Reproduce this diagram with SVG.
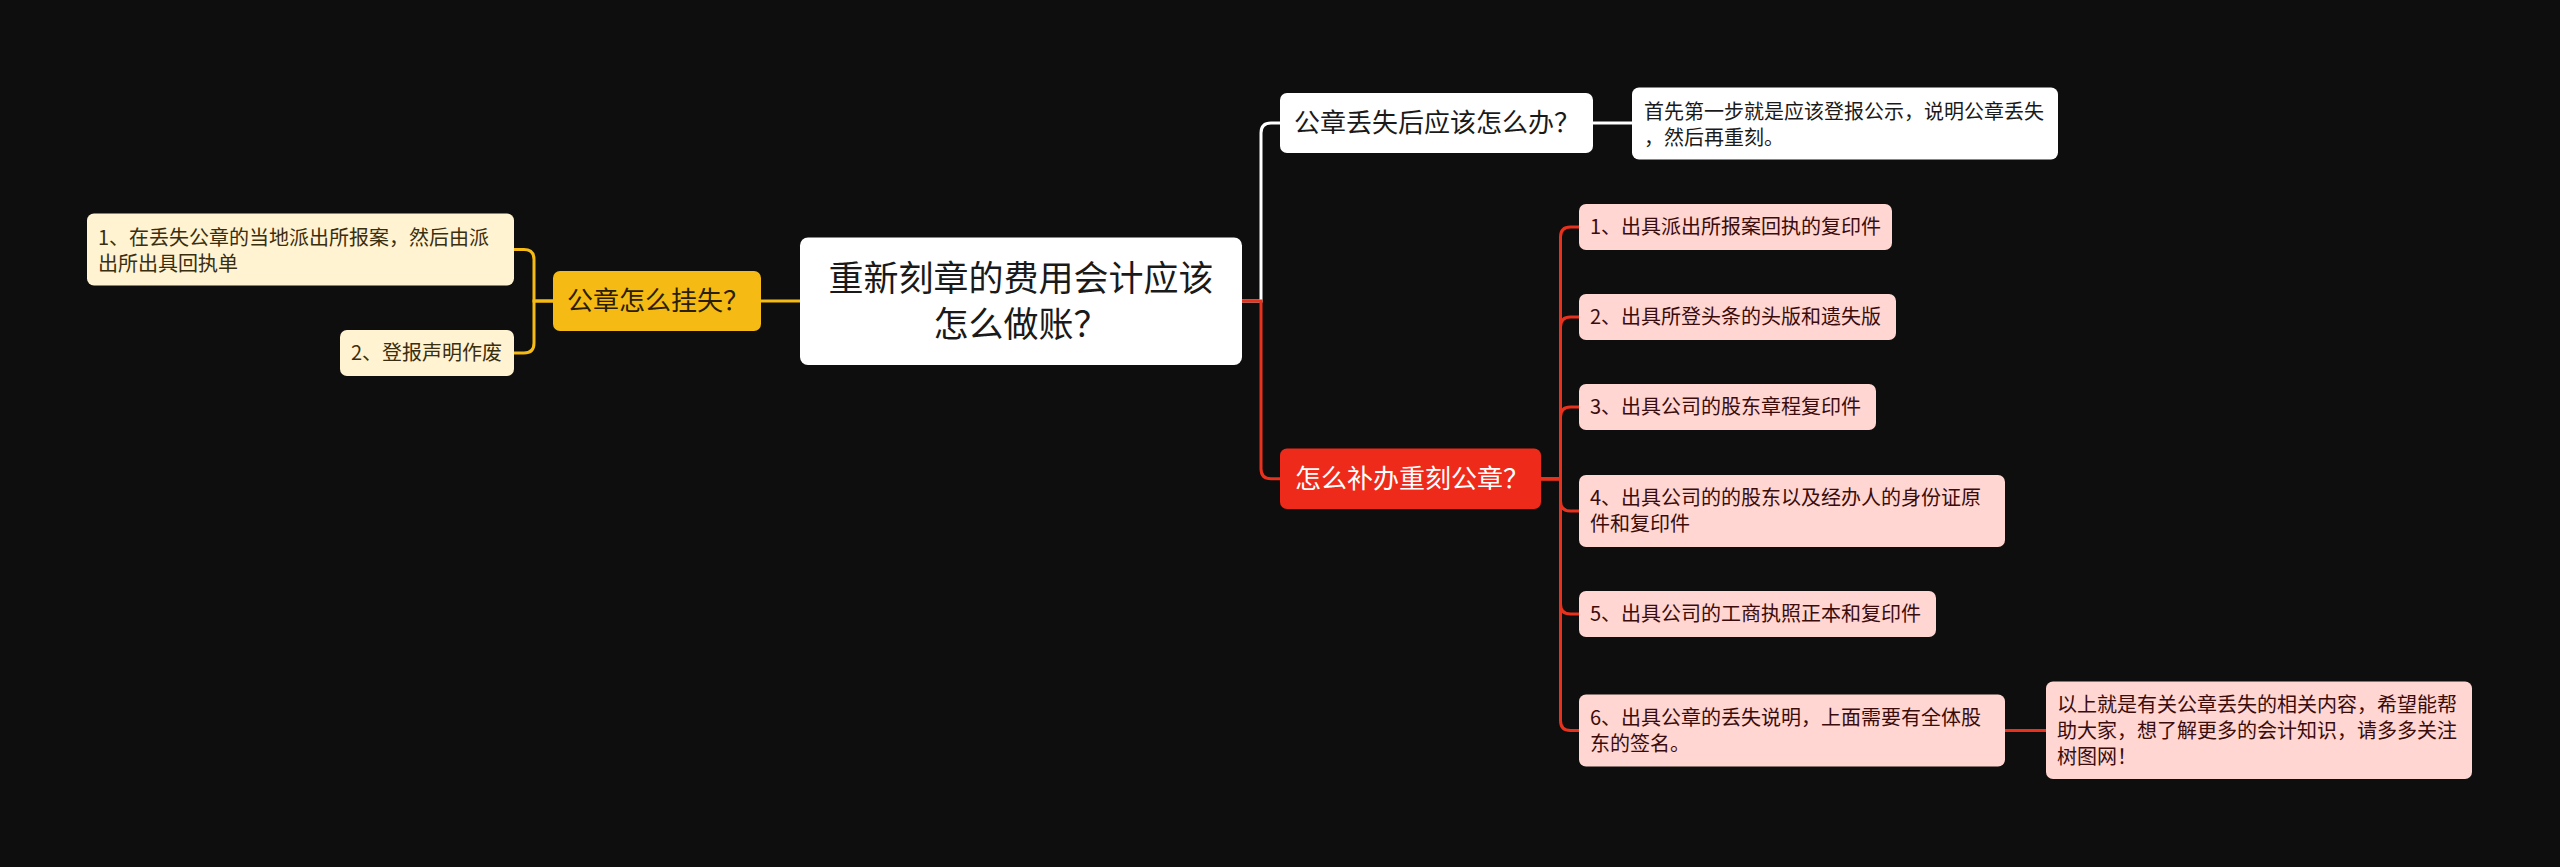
<svg xmlns="http://www.w3.org/2000/svg" width="2560" height="867" viewBox="0 0 2560 867">
<style>
text{font-family:"Noto Sans CJK SC","Noto Sans",sans-serif;}
.root{fill:#ffffff;}
.rootT{font-size:35px;fill:#1a1a1a;text-anchor:middle;}
.l1T{font-size:26px;}
.leafT{font-size:20px;}
.yel{fill:#F5BA14;}
.yelT{fill:#2a2000;}
.cream{fill:#FFF3D1;}
.creamT{fill:#3a2e10;}
.red{fill:#EE2A1A;}
.redT{fill:#ffffff;}
.pink{fill:#FFD6D2;}
.pinkT{fill:#3a0c0c;}
.wh{fill:#ffffff;}
.whT{fill:#1a1a1a;}
.c{fill:none;stroke-width:3;stroke-linecap:round;}
.cw{stroke:#ffffff;}
.cr{stroke:#E8321E;}
.cy{stroke:#F5BA14;}
</style>
<rect x="0" y="0" width="2560" height="867" fill="#0E0E0E"/>
<g id="connectors">
  <path class="c cy" d="M800 301 H761"/>
  <path class="c cy" d="M553 301 H534 V259.5 Q534 249.5 524 249.5 H514"/>
  <path class="c cy" d="M553 301 H534 V343 Q534 353 524 353 H514"/>
  <path class="c cw" d="M1242 301 H1261 V133 Q1261 123 1271 123 H1280"/>
  <path class="c cw" d="M1593 123 H1632"/>
  <path class="c cr" d="M1242 301 H1261 V468.7 Q1261 478.7 1271 478.7 H1280"/>
  <path class="c cr" d="M1541 478.7 H1560.5 V237 Q1560.5 227 1570.5 227 H1579"/>
  <path class="c cr" d="M1541 478.7 H1560.5 V327 Q1560.5 317 1570.5 317 H1579"/>
  <path class="c cr" d="M1541 478.7 H1560.5 V417 Q1560.5 407 1570.5 407 H1579"/>
  <path class="c cr" d="M1541 478.7 H1560.5 V501 Q1560.5 511 1570.5 511 H1579"/>
  <path class="c cr" d="M1541 478.7 H1560.5 V604 Q1560.5 614 1570.5 614 H1579"/>
  <path class="c cr" d="M1541 478.7 H1560.5 V720.5 Q1560.5 730.5 1570.5 730.5 H1579"/>
  <path class="c cr" d="M2005 730.5 H2046"/>
</g>
<g id="root">
  <rect class="root" x="800" y="237.5" width="442" height="127.5" rx="8"/>
  <text class="rootT" x="1021" y="291">重新刻章的费用会计应该</text>
  <text class="rootT" x="1021" y="337">怎么做账？</text>
</g>
<g id="n-guashi">
  <rect class="yel" x="553" y="271" width="208" height="60" rx="7"/>
  <text class="l1T yelT" x="567" y="310">公章怎么挂失？</text>
</g>
<g id="n-guashi-1">
  <rect class="cream" x="87" y="213.5" width="427" height="72" rx="7"/>
  <text class="leafT creamT" x="98" y="244.5">1、在丢失公章的当地派出所报案，然后由派</text>
  <text class="leafT creamT" x="98" y="270.5">出所出具回执单</text>
</g>
<g id="n-guashi-2">
  <rect class="cream" x="340" y="330" width="174" height="46" rx="7"/>
  <text class="leafT creamT" x="351" y="360">2、登报声明作废</text>
</g>
<g id="n-diushi">
  <rect class="wh" x="1280" y="93" width="313" height="60" rx="7"/>
  <text class="l1T whT" x="1294" y="132">公章丢失后应该怎么办？</text>
</g>
<g id="n-diushi-1">
  <rect class="wh" x="1632" y="87.5" width="426" height="72" rx="7"/>
  <text class="leafT whT" x="1644" y="118.5">首先第一步就是应该登报公示，说明公章丢失</text>
  <text class="leafT whT" x="1644" y="144.5">，然后再重刻。</text>
</g>
<g id="n-buban">
  <rect class="red" x="1280" y="448.5" width="261" height="60.5" rx="7"/>
  <text class="l1T redT" x="1295" y="488">怎么补办重刻公章？</text>
</g>
<g id="n-buban-1">
  <rect class="pink" x="1579" y="204" width="313" height="46" rx="7"/>
  <text class="leafT pinkT" x="1590" y="234">1、出具派出所报案回执的复印件</text>
</g>
<g id="n-buban-2">
  <rect class="pink" x="1579" y="294" width="317" height="46" rx="7"/>
  <text class="leafT pinkT" x="1590" y="324">2、出具所登头条的头版和遗失版</text>
</g>
<g id="n-buban-3">
  <rect class="pink" x="1579" y="384" width="297" height="46" rx="7"/>
  <text class="leafT pinkT" x="1590" y="414">3、出具公司的股东章程复印件</text>
</g>
<g id="n-buban-4">
  <rect class="pink" x="1579" y="475" width="426" height="72" rx="7"/>
  <text class="leafT pinkT" x="1590" y="505">4、出具公司的的股东以及经办人的身份证原</text>
  <text class="leafT pinkT" x="1590" y="531">件和复印件</text>
</g>
<g id="n-buban-5">
  <rect class="pink" x="1579" y="591" width="357" height="46" rx="7"/>
  <text class="leafT pinkT" x="1590" y="621">5、出具公司的工商执照正本和复印件</text>
</g>
<g id="n-buban-6">
  <rect class="pink" x="1579" y="694.5" width="426" height="72" rx="7"/>
  <text class="leafT pinkT" x="1590" y="724.5">6、出具公章的丢失说明，上面需要有全体股</text>
  <text class="leafT pinkT" x="1590" y="750.5">东的签名。</text>
</g>
<g id="n-buban-6-1">
  <rect class="pink" x="2046" y="681.5" width="426" height="97.5" rx="7"/>
  <text class="leafT pinkT" x="2057" y="712">以上就是有关公章丢失的相关内容，希望能帮</text>
  <text class="leafT pinkT" x="2057" y="738">助大家，想了解更多的会计知识，请多多关注</text>
  <text class="leafT pinkT" x="2057" y="764">树图网！</text>
</g>
</svg>
